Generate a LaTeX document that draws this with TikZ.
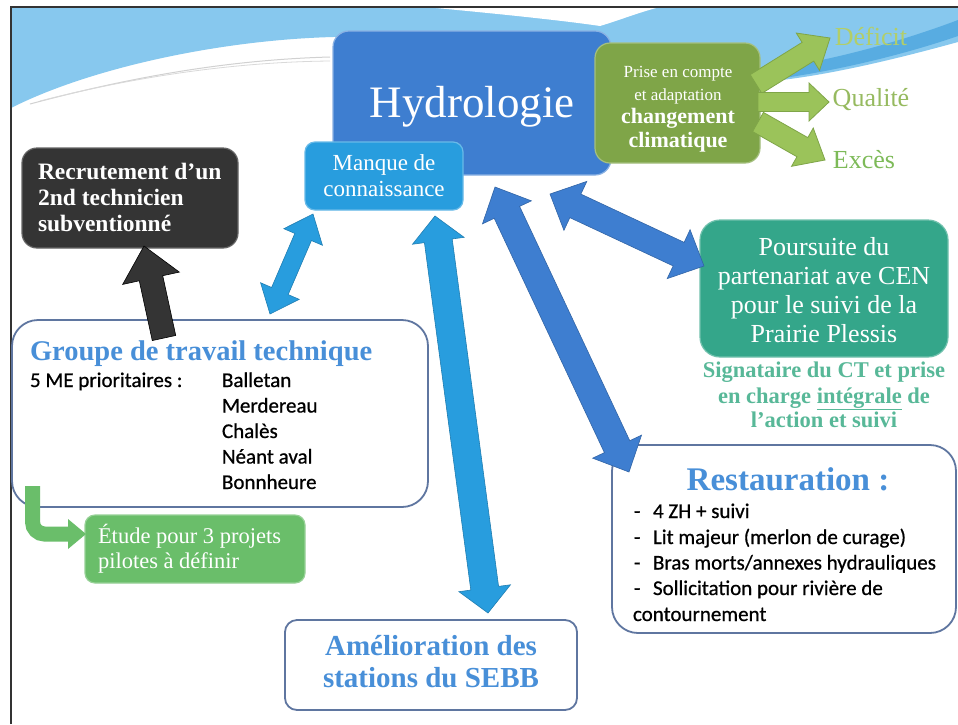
\documentclass[tikz,border=0pt]{standalone}
\usepackage{fontspec}
\setmainfont{Liberation Serif}
\newfontfamily\sanscal[FakeBold=0.7]{Carlito}
\usetikzlibrary{calc}
\definecolor{swoosh}{RGB}{135,200,238}
\definecolor{swooshdk}{RGB}{88,172,225}
\definecolor{hydblue}{RGB}{62,126,208}
\definecolor{manqueblue}{RGB}{40,157,222}
\definecolor{climgreen}{RGB}{127,165,72}
\definecolor{arrowgreen}{RGB}{155,195,90}
\definecolor{etudegreen}{RGB}{106,190,106}
\definecolor{tealbox}{RGB}{52,166,138}
\definecolor{tealtext}{RGB}{88,184,152}
\definecolor{titleblue}{RGB}{72,143,216}
\definecolor{boxborder}{RGB}{95,118,160}
\definecolor{darkbox}{RGB}{52,52,52}
\definecolor{deftxt}{RGB}{178,206,105}
\definecolor{qualtxt}{RGB}{150,186,95}
\definecolor{exctxt}{RGB}{125,186,88}
% double block arrow: a b shaft-half head-half head-length style
\newcommand\dblblock[6]{%
 \path[#6] (#1)
 -- ($(#1)!#5!(#2)!#4!90:(#2)$)
 -- ($(#1)!#5!(#2)!#3!90:(#2)$)
 -- ($(#2)!#5!(#1)!#3!-90:(#1)$)
 -- ($(#2)!#5!(#1)!#4!-90:(#1)$)
 -- (#2)
 -- ($(#2)!#5!(#1)!#4!90:(#1)$)
 -- ($(#2)!#5!(#1)!#3!90:(#1)$)
 -- ($(#1)!#5!(#2)!#3!-90:(#2)$)
 -- ($(#1)!#5!(#2)!#4!-90:(#2)$)
 -- cycle;}
% single block arrow from a to b
\newcommand\oneblock[6]{%
 \path[#6] ($(#1)!#3!90:(#2)$)
 -- ($(#2)!#5!(#1)!#3!-90:(#1)$)
 -- ($(#2)!#5!(#1)!#4!-90:(#1)$)
 -- (#2)
 -- ($(#2)!#5!(#1)!#4!90:(#1)$)
 -- ($(#2)!#5!(#1)!#3!90:(#1)$)
 -- ($(#1)!#3!-90:(#2)$)
 -- cycle;}
\tikzset{
 lbl/.style={inner sep=0pt, outer sep=0pt},
 wbox/.style={draw=boxborder, line width=1.8pt, fill=white, rounded corners=22pt, inner sep=0pt},
 fbox/.style={inner sep=0pt, line width=1.2pt},
 wtxt/.style={lbl, text=white},
 btxt/.style={lbl, text=titleblue, font=\bfseries},
 ltxt/.style={lbl, anchor=base west, text=black, font=\sanscal\fontsize{21}{24}\selectfont},
 bluearrow/.style={fill=hydblue, draw=hydblue!80!black, line width=0.6pt},
 lightarrow/.style={fill=manqueblue, draw=manqueblue!80!black, line width=0.6pt},
 greenarrow/.style={fill=arrowgreen, draw=climgreen, line width=0.8pt},
 darkarrow/.style={fill=darkbox, draw=black, line width=0.6pt},
}
\begin{document}
\begin{tikzpicture}[x=1pt,y=-1pt]
\useasboundingbox (0,0) rectangle (958,724);
\fill[white] (0,0) rectangle (958,724);
% background swoosh
\fill[swoosh] (11,7) -- (958,7) -- (958,42) .. controls (900,58) and (820,78) .. (760,82)
  -- (600,50) .. controls (500,40) and (420,36) .. (333,37)
  .. controls (220,40) and (90,68) .. (11,108) -- cycle;
\fill[white] (425,7) .. controls (480,12) and (560,20) .. (600,26) .. controls (620,20) and (640,12) .. (660,7) -- cycle;
\fill[swooshdk] (700,76) .. controls (800,72) and (900,42) .. (958,20) -- (958,36) .. controls (900,56) and (800,82) .. (700,86) -- cycle;
\draw[black!18, line width=1pt] (30,104) .. controls (120,80) and (220,60) .. (330,57);
\draw[black!15, line width=0.8pt] (40,101) .. controls (130,78) and (230,62) .. (330,61);
% frame
\draw[black!80, line width=2pt] (11,724) -- (11,7) -- (958,7);

% boxes
\node[fbox, fill=hydblue, draw=hydblue!60!white, rounded corners=16pt, minimum width=278pt, minimum height=144pt] (hydro) at (472,103) {};
\node[wtxt, anchor=base, font=\fontsize{45}{50}\selectfont] (hydrot) at (472,117) {Hydrologie};
\node[fbox, fill=manqueblue, draw=manqueblue!70!white, rounded corners=10pt, minimum width=158pt, minimum height=68pt] (manque) at (384,176) {};
\node[wtxt, anchor=base, font=\fontsize{23}{26}\selectfont] (manque1) at (384,170) {Manque de};
\node[wtxt, anchor=base, font=\fontsize{23}{26}\selectfont] (manque2) at (384,196) {connaissance};

\node[fbox, fill=climgreen, draw=climgreen!70!white, rounded corners=15pt, minimum width=165pt, minimum height=120pt] (clim) at (677.5,103) {};
\node[wtxt, anchor=base, font=\fontsize{17}{20}\selectfont] (clim1) at (678,77) {Prise en compte};
\node[wtxt, anchor=base, font=\fontsize{17}{20}\selectfont] (clim2) at (678,100) {et adaptation};
\node[wtxt, anchor=base, font=\bfseries\fontsize{22}{24}\selectfont] (clim3) at (678,123) {changement};
\node[wtxt, anchor=base, font=\bfseries\fontsize{22}{24}\selectfont] (clim4) at (678,147) {climatique};

\node[fbox, fill=darkbox, draw=black!60, rounded corners=15pt, minimum width=216pt, minimum height=100pt] (recru) at (130,198) {};
\node[wtxt, anchor=base west, font=\bfseries\fontsize{23.5}{26}\selectfont] (recru1) at (38,179) {Recrutement d’un};
\node[wtxt, anchor=base west, font=\bfseries\fontsize{23.5}{26}\selectfont] (recru2) at (38,205) {2nd technicien};
\node[wtxt, anchor=base west, font=\bfseries\fontsize{23.5}{26}\selectfont] (recru3) at (38,231) {subventionné};

\node[wbox, rounded corners=26pt, minimum width=416pt, minimum height=187pt] (groupe) at (220,413.5) {};
\node[btxt, anchor=base west, font=\bfseries\fontsize{28.5}{32}\selectfont] (groupet) at (30,360) {Groupe de travail technique};
\node[ltxt] (me) at (30,387) {5 ME prioritaires :};
\node[ltxt] (me1) at (222,387) {Balletan};
\node[ltxt] (me2) at (222,412.5) {Merdereau};
\node[ltxt] (me3) at (222,438) {Chalès};
\node[ltxt] (me4) at (222,463.5) {Néant aval};
\node[ltxt] (me5) at (222,489) {Bonnheure};

\node[fbox, fill=etudegreen, draw=etudegreen!70!white, rounded corners=10pt, minimum width=220pt, minimum height=68pt] (etude) at (195,549) {};
\node[wtxt, anchor=base west, font=\fontsize{22.5}{25}\selectfont] (etude1) at (98,543) {Étude pour 3 projets};
\node[wtxt, anchor=base west, font=\fontsize{22.5}{25}\selectfont] (etude2) at (98,568) {pilotes à définir};

\node[fbox, fill=tealbox, draw=tealbox!70!white, rounded corners=20pt, minimum width=248pt, minimum height=137pt] (pours) at (824,288.5) {};
\node[wtxt, anchor=base, font=\fontsize{26}{29}\selectfont] (pours1) at (824,255) {Poursuite du};
\node[wtxt, anchor=base, font=\fontsize{26}{29}\selectfont] (pours2) at (824,284) {partenariat ave CEN};
\node[wtxt, anchor=base, font=\fontsize{26}{29}\selectfont] (pours3) at (824,313) {pour le suivi de la};
\node[wtxt, anchor=base, font=\fontsize{26}{29}\selectfont] (pours4) at (824,342) {Prairie Plessis};
\node[lbl, text=tealtext, anchor=base, font=\bfseries\fontsize{22.5}{25}\selectfont] (sign1) at (824,377) {Signataire du CT et prise};
\node[lbl, text=tealtext, anchor=base, font=\bfseries\fontsize{22.5}{25}\selectfont] (sign2) at (824,403) {en charge \underline{intégrale} de};
\node[lbl, text=tealtext, anchor=base, font=\bfseries\fontsize{22.5}{25}\selectfont] (sign3) at (824,427) {l’action et suivi};

\node[wbox, rounded corners=26pt, minimum width=344pt, minimum height=188pt] (resto) at (784,539) {};
\node[btxt, anchor=base, font=\bfseries\fontsize{33}{36}\selectfont] (restot) at (788,490) {Restauration :};
\node[ltxt] (r1) at (634,518) {\makebox[19pt][l]{-}4 ZH + suivi};
\node[ltxt] (r2) at (634,544) {\makebox[19pt][l]{-}Lit majeur (merlon de curage)};
\node[ltxt] (r3) at (634,569.5) {\makebox[19pt][l]{-}Bras morts/annexes hydrauliques};
\node[ltxt] (r4) at (634,595) {\makebox[19pt][l]{-}Sollicitation pour rivière de};
\node[ltxt] (r5) at (633,621) {contournement};

\node[wbox, rounded corners=12pt, minimum width=292pt, minimum height=90pt] (amelio) at (431,665) {};
\node[btxt, anchor=base, font=\bfseries\fontsize{29}{32}\selectfont] (amelio1) at (431,655) {Amélioration des};
\node[btxt, anchor=base, font=\bfseries\fontsize{29}{32}\selectfont] (amelio2) at (431,687) {stations du SEBB};

% outcome labels
\node[lbl, text=deftxt, anchor=base, font=\fontsize{26}{28}\selectfont] (deficit) at (871,45) {Déficit};
\node[lbl, text=qualtxt, anchor=base, font=\fontsize{26}{28}\selectfont] (qualite) at (871,106) {Qualité};
\node[lbl, text=exctxt, anchor=base, font=\fontsize{26}{28}\selectfont] (exces) at (864,168) {Excès};

% connector end points
\coordinate (gE1) at (756,84);  \coordinate (gE2) at (830,38);
\coordinate (gQ1) at (758,102); \coordinate (gQ2) at (829,102);
\coordinate (gX1) at (758,122); \coordinate (gX2) at (825,160);
\coordinate (bA1) at (164,338); \coordinate (bA2) at (144,246);
\coordinate (lA1) at (270,314); \coordinate (lA2) at (313,214);
\coordinate (lB1) at (435,216); \coordinate (lB2) at (488,613);
\coordinate (dC1) at (495,187); \coordinate (dC2) at (629,472);
\coordinate (dD1) at (550,194); \coordinate (dD2) at (704,266);
\coordinate (elb1) at (32.5,486); \coordinate (elb2) at (70,534); \coordinate (elbtip) at (86,534);

% connectors
\oneblock{gE1}{gE2}{11pt}{22pt}{26pt}{greenarrow}
\oneblock{gQ1}{gQ2}{9.5pt}{19pt}{20pt}{greenarrow}
\oneblock{gX1}{gX2}{11pt}{22pt}{26pt}{greenarrow}
\oneblock{bA1}{bA2}{12pt}{29pt}{33pt}{darkarrow}
\dblblock{lA1}{lA2}{9pt}{21pt}{25pt}{lightarrow}
\dblblock{lB1}{lB2}{14pt}{26pt}{25pt}{lightarrow}
\dblblock{dC1}{dC2}{14pt}{27pt}{28pt}{bluearrow}
\dblblock{dD1}{dD2}{13pt}{27pt}{28pt}{bluearrow}
\draw[etudegreen, line width=15pt, rounded corners=12pt] (elb1) |- (elb2);
\fill[etudegreen] ($(elbtip)+(-18,-15)$) -- (elbtip) -- ($(elbtip)+(-18,15)$) -- cycle;
\end{tikzpicture}
\end{document}
